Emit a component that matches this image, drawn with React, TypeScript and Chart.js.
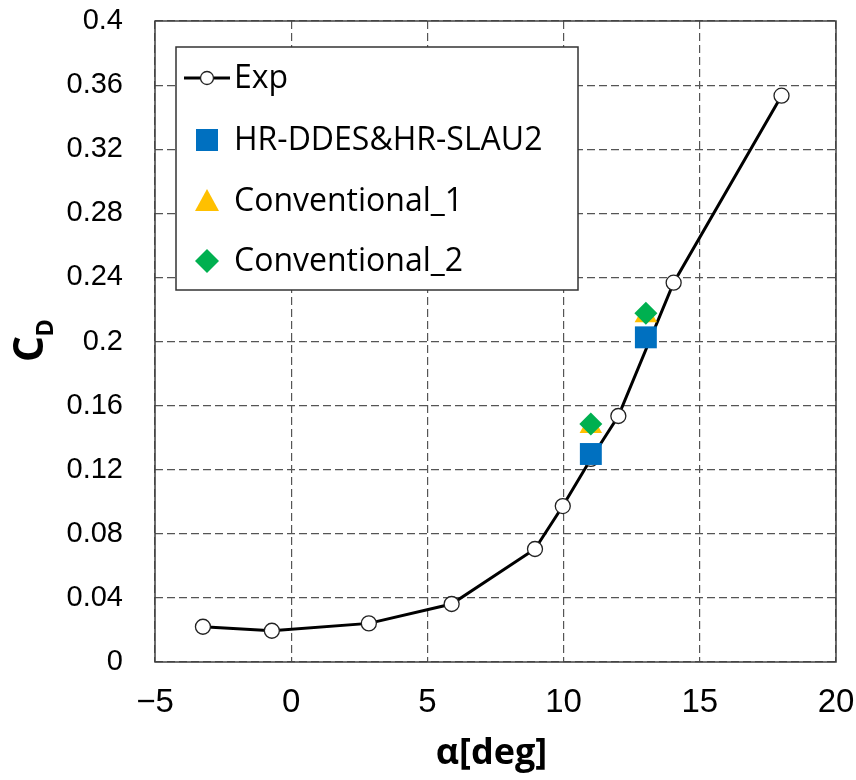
import React, { useEffect, useRef } from 'react';
import { Chart, registerables } from 'chart.js';

Chart.register(...registerables);

// ---- data ----
const expAlpha = [-3.24, -0.71, 2.85, 5.89, 8.95, 9.97, 11.0, 12.01, 14.04, 18.0];
const expCd = [0.022, 0.0195, 0.0241, 0.0362, 0.0705, 0.0973, 0.1267, 0.1535, 0.2367, 0.3534];

const hrAlpha = [11.0, 13.02];
const hrCd = [0.1298, 0.2026];

const conv1Alpha = [11.0, 13.02];
const conv1Cd = [0.147, 0.216];

const conv2Alpha = [11.0, 13.02];
const conv2Cd = [0.1485, 0.2176];

const seriesNames = ['Exp', 'HR-DDES&HR-SLAU2', 'Conventional_1', 'Conventional_2'];

const xTickValues = [-5, 0, 5, 10, 15, 20];
const xTickLabels = ['\u22125', '0', '5', '10', '15', '20'];
const yTickValues = [0, 0.04, 0.08, 0.12, 0.16, 0.2, 0.24, 0.28, 0.32, 0.36, 0.4];
const yTickLabels = ['0', '0.04', '0.08', '0.12', '0.16', '0.2', '0.24', '0.28', '0.32', '0.36', '0.4'];

const xTitle = '\u03b1[deg]';
const yTitleMain = 'C';
const yTitleSub = 'D';

const BLUE = '#0070C0';
const YELLOW = '#FFC000';
const GREEN = '#00B050';

const toPoints = (xs: number[], ys: number[]) => xs.map((x, i) => ({ x, y: ys[i] }));

const decorPlugin = {
  id: 'decor',
  beforeDatasetsDraw(chart: any) {
    const { ctx, chartArea } = chart;
    ctx.save();
    ctx.strokeStyle = '#404040';
    ctx.lineWidth = 1.5;
    ctx.setLineDash([]);
    ctx.strokeRect(chartArea.left, chartArea.top, chartArea.right - chartArea.left, chartArea.bottom - chartArea.top);
    ctx.restore();
  },
  afterDraw(chart: any) {
    const { ctx, chartArea } = chart;
    ctx.save();
    // ---- legend ----
    const bx = chartArea.left + 21;
    const by = chartArea.top + 26;
    const bw = 402;
    const bh = 243;
    ctx.fillStyle = '#ffffff';
    ctx.fillRect(bx, by, bw, bh);
    ctx.strokeStyle = '#333333';
    ctx.lineWidth = 1.5;
    ctx.strokeRect(bx, by, bw, bh);

    const rowOffsets = [31, 93, 154, 214];
    const symX = bx + 31;
    const textX = bx + 58;
    ctx.font = "32px 'Open Sans'";
    ctx.textAlign = 'left';
    ctx.textBaseline = 'middle';
    seriesNames.forEach((name, i) => {
      const cy = by + rowOffsets[i];
      if (i === 0) {
        ctx.strokeStyle = '#000';
        ctx.lineWidth = 3;
        ctx.beginPath();
        ctx.moveTo(symX - 23, cy);
        ctx.lineTo(symX + 23, cy);
        ctx.stroke();
        ctx.beginPath();
        ctx.arc(symX, cy, 6.5, 0, Math.PI * 2);
        ctx.fillStyle = '#fff';
        ctx.fill();
        ctx.lineWidth = 1.3;
        ctx.strokeStyle = '#222';
        ctx.stroke();
      } else if (i === 1) {
        ctx.fillStyle = BLUE;
        ctx.fillRect(symX - 11, cy - 11, 22, 22);
      } else if (i === 2) {
        ctx.fillStyle = YELLOW;
        ctx.beginPath();
        ctx.moveTo(symX, cy - 12);
        ctx.lineTo(symX + 12, cy + 10);
        ctx.lineTo(symX - 12, cy + 10);
        ctx.closePath();
        ctx.fill();
      } else {
        ctx.fillStyle = GREEN;
        ctx.beginPath();
        ctx.moveTo(symX, cy - 12);
        ctx.lineTo(symX + 12, cy);
        ctx.lineTo(symX, cy + 12);
        ctx.lineTo(symX - 12, cy);
        ctx.closePath();
        ctx.fill();
      }
      ctx.fillStyle = '#000';
      ctx.fillText(name, textX, cy + 1);
    });

    // ---- x title ----
    ctx.fillStyle = '#000';
    ctx.font = "bold 36px 'Open Sans'";
    ctx.textAlign = 'center';
    ctx.textBaseline = 'alphabetic';
    ctx.fillText(xTitle, (chartArea.left + chartArea.right) / 2 - 4, 764);

    // ---- y title with subscript ----
    ctx.save();
    ctx.translate(43, 362);
    ctx.rotate(-Math.PI / 2);
    ctx.textAlign = 'left';
    ctx.textBaseline = 'alphabetic';
    ctx.font = "bold 41px 'Open Sans'";
    ctx.fillText(yTitleMain, 0, 0);
    const wC = ctx.measureText(yTitleMain).width;
    ctx.font = "bold 24px 'Open Sans'";
    ctx.fillText(yTitleSub, wC - 1, 10);
    ctx.restore();

    ctx.restore();
  },
};

export default function App() {
  const canvasRef = useRef<HTMLCanvasElement | null>(null);

  useEffect(() => {
    const canvas = canvasRef.current;
    if (!canvas) return;
    const gridColor = '#555555';
    const chart = new Chart(canvas, {
      type: 'scatter',
      data: {
        datasets: [
          {
            label: seriesNames[0],
            data: toPoints(expAlpha, expCd),
            showLine: true,
            borderColor: '#000',
            borderWidth: 3,
            tension: 0,
            pointStyle: 'circle',
            pointRadius: 7.5,
            pointBackgroundColor: '#fff',
            pointBorderColor: '#222',
            pointBorderWidth: 1.3,
            order: 4,
          },
          {
            label: seriesNames[1],
            data: toPoints(hrAlpha, hrCd),
            showLine: false,
            pointStyle: 'rect',
            pointRadius: 15.5,
            pointBackgroundColor: BLUE,
            pointBorderColor: BLUE,
            pointBorderWidth: 0,
            order: 3,
          },
          {
            label: seriesNames[2],
            data: toPoints(conv1Alpha, conv1Cd),
            showLine: false,
            pointStyle: 'triangle',
            pointRadius: 13,
            pointBackgroundColor: YELLOW,
            pointBorderColor: YELLOW,
            pointBorderWidth: 0,
            order: 2,
          },
          {
            label: seriesNames[3],
            data: toPoints(conv2Alpha, conv2Cd),
            showLine: false,
            pointStyle: 'rectRot',
            pointRadius: 11.5,
            pointBackgroundColor: GREEN,
            pointBorderColor: GREEN,
            pointBorderWidth: 0,
            order: 1,
          },
        ],
      },
      options: {
        responsive: false,
        animation: false,
        devicePixelRatio: 1,
        layout: { padding: { left: 0, right: 20, top: 21, bottom: 0 } },
        plugins: {
          legend: { display: false },
          tooltip: { enabled: false },
          title: { display: false },
        },
        scales: {
          x: {
            type: 'linear',
            min: -5,
            max: 20,
            afterBuildTicks: (scale: any) => {
              scale.ticks = xTickValues.map((v) => ({ value: v }));
            },
            afterFit: (scale: any) => {
              scale.height = 118;
              scale.paddingLeft = 0;
              scale.paddingRight = 0;
            },
            ticks: {
              autoSkip: false,
              maxRotation: 0,
              padding: 21,
              color: '#000',
              font: { family: "'Liberation Sans Narrow', 'Liberation Sans'", size: 33 },
              callback: (_v: any, i: number) => xTickLabels[i],
            },
            grid: { color: gridColor, lineWidth: 1.2, drawTicks: false },
            border: { display: false, dash: [8, 4] },
          },
          y: {
            type: 'linear',
            min: 0,
            max: 0.4,
            afterBuildTicks: (scale: any) => {
              scale.ticks = yTickValues.map((v) => ({ value: v }));
            },
            afterFit: (scale: any) => {
              scale.width = 155;
              scale.paddingTop = 0;
              scale.paddingBottom = 0;
            },
            ticks: {
              autoSkip: false,
              padding: 32,
              color: '#000',
              font: { family: "'Liberation Sans Narrow', 'Liberation Sans'", size: 29 },
              callback: (_v: any, i: number) => yTickLabels[i],
            },
            grid: { color: gridColor, lineWidth: 1.2, drawTicks: false },
            border: { display: false, dash: [8, 4] },
          },
        },
      },
      plugins: [decorPlugin],
    });
    return () => chart.destroy();
  }, []);

  return (
    <div style={{ position: 'absolute', left: 0, top: 0, width: 856, height: 780, background: '#fff' }}>
      <canvas ref={canvasRef} width={856} height={780} style={{ display: 'block' }} />
    </div>
  );
}
